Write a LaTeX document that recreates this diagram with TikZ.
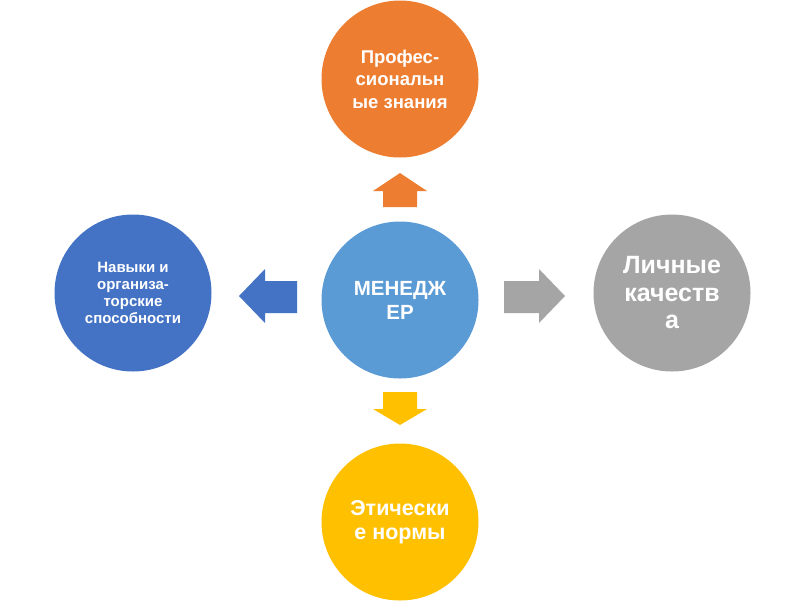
\documentclass[tikz,border=0pt]{standalone}
\usepackage{fontspec}
\setmainfont{Liberation Sans}
\begin{document}
\begin{tikzpicture}[x=1pt,y=-1pt,
  bubble/.style={circle,minimum size=157pt,inner sep=0pt,text=white,align=center,font=\bfseries}]
\useasboundingbox[fill=white] (0,0) rectangle (800,600);
\definecolor{corange}{HTML}{ED7D31}
\definecolor{cblue}{HTML}{5B9BD5}
\definecolor{cdblue}{HTML}{4472C4}
\definecolor{cgray}{HTML}{A5A5A5}
\definecolor{cyellow}{HTML}{FFC000}
\node[bubble,fill=cblue,font=\bfseries\fontsize{20.5}{24}\selectfont] (c) at (400,300) {МЕНЕДЖ\\ЕР};
\node[bubble,fill=corange,font=\bfseries\fontsize{18.5}{22.5}\selectfont] (t) at (400,79) {Профес-\\сиональн\\ые знания};
\node[bubble,fill=cyellow,font=\bfseries\fontsize{21.5}{23.5}\selectfont] (b) at (400,522) {Этически\\е нормы};
\node[bubble,fill=cdblue,font=\bfseries\fontsize{15}{17}\selectfont] (l) at (133,293) {Навыки и\\организа-\\торские\\способности};
\node[bubble,fill=cgray,font=\bfseries\fontsize{25}{27.5}\selectfont] (r) at (672,293) {Личные\\качеств\\а};
% up arrow
\fill[corange] (383,207) -- (383,191) -- (373,191) -- (400,173) -- (427,191) -- (417,191) -- (417,207) -- cycle;
% down arrow
\fill[cyellow] (383,392) -- (417,392) -- (417,409) -- (427,409) -- (400,425) -- (373,409) -- (383,409) -- cycle;
% left arrow
\fill[cdblue] (297,281) -- (265,281) -- (265,269) -- (239,296) -- (265,323) -- (265,313) -- (297,313) -- cycle;
% right arrow
\fill[cgray] (504,281) -- (539,281) -- (539,269) -- (565,296) -- (539,323) -- (539,313) -- (504,313) -- cycle;
\end{tikzpicture}
\end{document}
